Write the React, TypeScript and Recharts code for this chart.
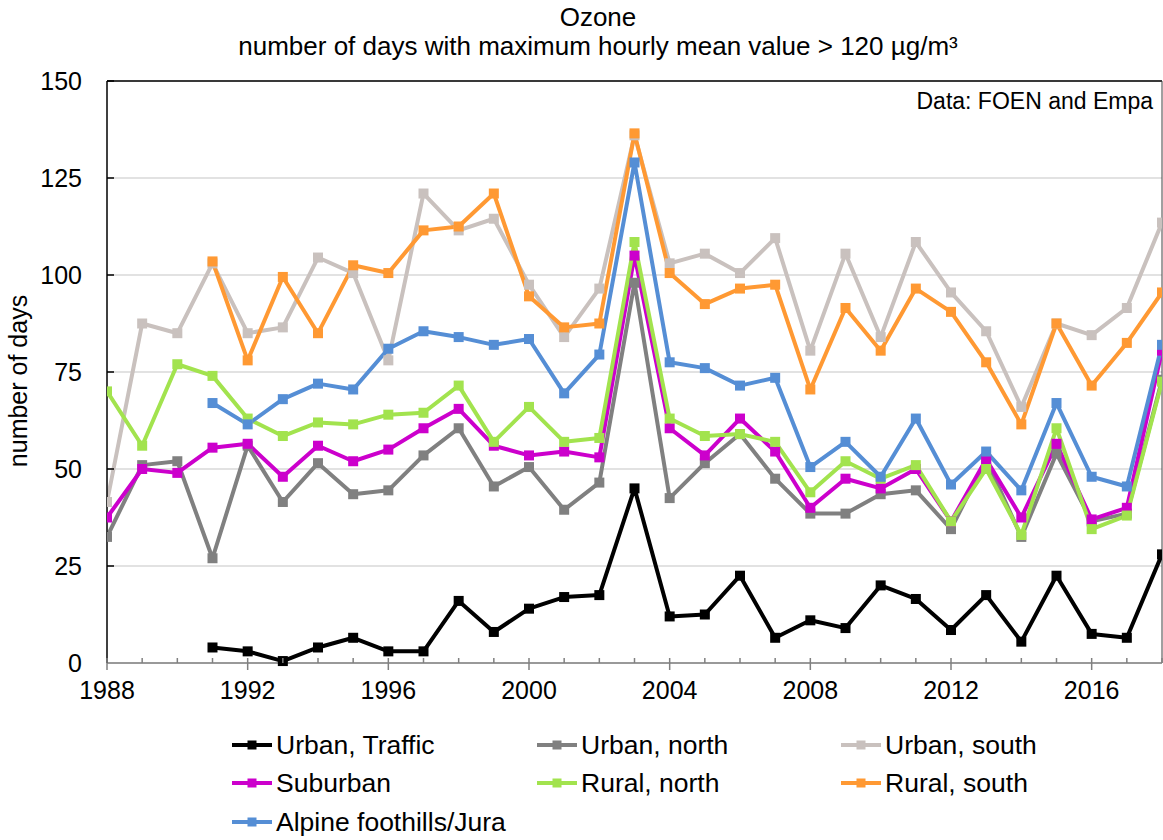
import React from 'react';
import { LineChart, Line, XAxis, YAxis, CartesianGrid, ReferenceLine, Legend } from 'recharts';

const years = [1988, 1989, 1990, 1991, 1992, 1993, 1994, 1995, 1996, 1997, 1998, 1999, 2000, 2001, 2002, 2003, 2004, 2005, 2006, 2007, 2008, 2009, 2010, 2011, 2012, 2013, 2014, 2015, 2016, 2017, 2018];

const urbanTraffic = [null, null, null, 4, 3, 0.5, 4, 6.5, 3, 3, 16, 8, 14, 17, 17.5, 45, 12, 12.5, 22.5, 6.5, 11, 9, 20, 16.5, 8.5, 17.5, 5.5, 22.5, 7.5, 6.5, 28];
const urbanNorth = [32.5, 51, 52, 27, 56, 41.5, 51.5, 43.5, 44.5, 53.5, 60.5, 45.5, 50.5, 39.5, 46.5, 98, 42.5, 51.5, 59, 47.5, 38.5, 38.5, 43.5, 44.5, 34.5, 52.5, 32.5, 54, 36.5, 38.5, 73];
const urbanSouth = [41.5, 87.5, 85, 103, 85, 86.5, 104.5, 100.5, 78, 121, 111.5, 114.5, 97.5, 84, 96.5, 136, 103, 105.5, 100.5, 109.5, 80.5, 105.5, 84, 108.5, 95.5, 85.5, 66, 87.5, 84.5, 91.5, 113.5];
const suburban = [37.5, 50, 49, 55.5, 56.5, 48, 56, 52, 55, 60.5, 65.5, 56, 53.5, 54.5, 53, 105, 60.5, 53.5, 63, 54.5, 40, 47.5, 45, 50, 36.5, 52.5, 37.5, 56.5, 37, 40, 80.5];
const ruralNorth = [70, 56, 77, 74, 63, 58.5, 62, 61.5, 64, 64.5, 71.5, 57, 66, 57, 58, 108.5, 63, 58.5, 59, 57, 44, 52, 47.5, 51, 36.5, 50, 33, 60.5, 34.5, 38, 72.5];
const ruralSouth = [null, null, null, 103.5, 78, 99.5, 85, 102.5, 100.5, 111.5, 112.5, 121, 94.5, 86.5, 87.5, 136.5, 100.5, 92.5, 96.5, 97.5, 70.5, 91.5, 80.5, 96.5, 90.5, 77.5, 61.5, 87.5, 71.5, 82.5, 95.5];
const alpine = [null, null, null, 67, 61.5, 68, 72, 70.5, 81, 85.5, 84, 82, 83.5, 69.5, 79.5, 129, 77.5, 76, 71.5, 73.5, 50.5, 57, 48, 63, 46, 54.5, 44.5, 67, 48, 45.5, 82];

const yTicks = [0, 25, 50, 75, 100, 125, 150];
const xLabelYears = [1988, 1992, 1996, 2000, 2004, 2008, 2012, 2016];

const seriesDefs = [
  { key: 'urbanTraffic', name: 'Urban, Traffic', color: '#000000', values: urbanTraffic },
  { key: 'urbanNorth', name: 'Urban, north', color: '#808080', values: urbanNorth },
  { key: 'urbanSouth', name: 'Urban, south', color: '#C9C1BE', values: urbanSouth },
  { key: 'suburban', name: 'Suburban', color: '#CC00CC', values: suburban },
  { key: 'ruralNorth', name: 'Rural, north', color: '#A2E34E', values: ruralNorth },
  { key: 'ruralSouth', name: 'Rural, south', color: '#FF9933', values: ruralSouth },
  { key: 'alpine', name: 'Alpine foothills/Jura', color: '#558ED5', values: alpine },
];

const data = years.map((year, i) => {
  const row: any = { year };
  seriesDefs.forEach((s) => { row[s.key] = s.values[i]; });
  return row;
});

const FONT = '"Liberation Sans", Arial, sans-serif';

const squareDot = (color: string) => (props: any) => {
  const { cx, cy, value, index } = props;
  if (cx == null || cy == null || value == null) return <g key={`e-${index}`} />;
  return <rect key={`d-${index}`} x={cx - 5} y={cy - 5} width={10} height={10} fill={color} stroke="none" />;
};

const XTick = (props: any) => {
  const { x, y, payload } = props;
  const major = xLabelYears.includes(payload.value);
  return (
    <g>
      <line x1={x} x2={x} y1={y - 5} y2={major ? y + 7 : y} stroke="#808080" strokeWidth={1.5} />
      {major && (
        <text x={x} y={y + 36} textAnchor="middle" fontSize={25} fontFamily={FONT} fill="#000">
          {payload.value}
        </text>
      )}
    </g>
  );
};

const YTick = (props: any) => {
  const { x, y, payload } = props;
  return (
    <g>
      {payload.value !== 0 && <line x1={x} x2={x + 7} y1={y} y2={y} stroke="#000" strokeWidth={1.5} />}
      <text x={x - 25} y={y + 9} textAnchor="end" fontSize={25} fontFamily={FONT} fill="#000">
        {payload.value}
      </text>
    </g>
  );
};

const colLeft = [232, 537, 841];
const rowCenter = [25, 63, 102];

const LegendContent = () => (
  <div style={{ position: 'relative', width: 1163, height: 120, fontFamily: FONT }}>
    {seriesDefs.map((s, i) => {
      const col = i % 3;
      const row = Math.floor(i / 3);
      return (
        <div
          key={s.key}
          style={{
            position: 'absolute',
            left: colLeft[col],
            top: rowCenter[row] - 19,
            height: 38,
            display: 'flex',
            alignItems: 'center',
            whiteSpace: 'nowrap',
          }}
        >
          <svg width={42} height={12} style={{ display: 'block' }}>
            <line x1={0} x2={40} y1={6} y2={6} stroke={s.color} strokeWidth={4} />
            <rect x={15.5} y={1.5} width={9} height={9} fill={s.color} />
          </svg>
          <span style={{ fontSize: 26.5, color: '#000', marginLeft: 2 }}>{s.name}</span>
        </div>
      );
    })}
  </div>
);

export default function App() {
  return (
    <div style={{ position: 'absolute', left: 0, top: 0, width: 1163, height: 840, background: '#fff', fontFamily: FONT }}>
      <div
        style={{
          position: 'absolute',
          left: 598,
          top: 3,
          transform: 'translateX(-50%)',
          textAlign: 'center',
          whiteSpace: 'nowrap',
          fontSize: 26,
          lineHeight: '29px',
          color: '#000',
          zIndex: 2,
        }}
      >
        <div>Ozone</div>
        <div>number of days with maximum hourly mean value &gt; 120 µg/m³</div>
      </div>
      <div
        style={{
          position: 'absolute',
          right: 10,
          top: 88,
          fontSize: 23,
          color: '#000',
          whiteSpace: 'nowrap',
          zIndex: 2,
        }}
      >
        Data: FOEN and Empa
      </div>
      <div
        style={{
          position: 'absolute',
          left: 18,
          top: 381,
          transform: 'translate(-50%, -50%) rotate(-90deg)',
          fontSize: 25,
          whiteSpace: 'nowrap',
          color: '#000',
          zIndex: 2,
        }}
      >
        number of days
      </div>
      <LineChart width={1163} height={840} data={data} margin={{ top: 81, right: 1, bottom: 147, left: 0 }}>
        <CartesianGrid horizontal vertical={false} stroke="#d9d9d9" strokeWidth={1.5} />
        <XAxis
          dataKey="year"
          type="number"
          domain={[1988, 2018]}
          ticks={years}
          interval={0}
          tickSize={0}
          tickMargin={0}
          tick={<XTick />}
          height={30}
          axisLine={{ stroke: '#808080', strokeWidth: 1.5 }}
          tickLine={false}
          allowDataOverflow
        />
        <YAxis
          type="number"
          domain={[0, 150]}
          ticks={yTicks}
          interval={0}
          width={107}
          tickSize={0}
          tickMargin={0}
          tick={<YTick />}
          axisLine={{ stroke: '#000', strokeWidth: 1.5 }}
          tickLine={false}
        />
        <ReferenceLine y={150} stroke="#000" strokeWidth={1.5} />
        <ReferenceLine x={2018} stroke="#404040" strokeWidth={1} />
        {seriesDefs.map((s) => (
          <Line
            key={s.key}
            dataKey={s.key}
            name={s.name}
            stroke={s.color}
            strokeWidth={4}
            dot={squareDot(s.color)}
            activeDot={false}
            isAnimationActive={false}
            connectNulls={false}
            strokeLinejoin="round"
          />
        ))}
        <Legend
          layout="vertical"
          verticalAlign="middle"
          align="center"
          content={<LegendContent />}
          wrapperStyle={{ position: 'absolute', left: 0, top: 720, width: 1163, height: 120 }}
        />
      </LineChart>
    </div>
  );
}
